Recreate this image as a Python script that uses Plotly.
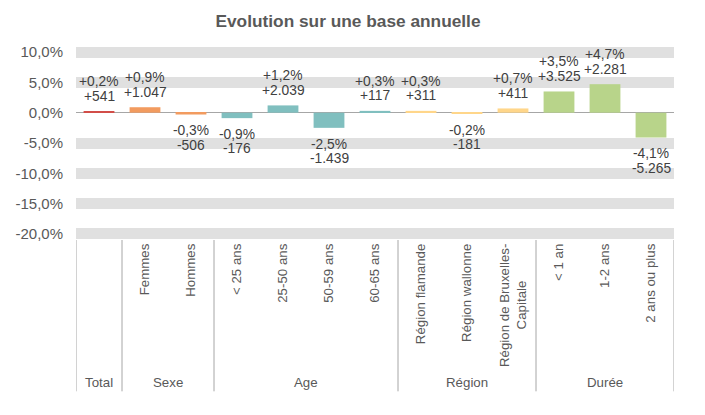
import plotly.graph_objects as go

# ---- data ----
categories = ["Total", "Femmes", "Hommes", "< 25 ans", "25-50 ans", "50-59 ans", "60-65 ans",
              "Région flamande", "Région wallonne", "Région de Bruxelles-Capitale",
              "< 1 an", "1-2 ans", "2 ans ou plus"]
tick_labels = ["", "Femmes", "Hommes", "< 25 ans", "25-50 ans", "50-59 ans", "60-65 ans",
               "Région flamande", "Région wallonne",
               "Région de Bruxelles-<br>Capitale" + "\u00a0" * 10,
               "< 1 an", "1-2 ans", "2 ans ou plus"]
groups = ["Total", "Sexe", "Sexe", "Age", "Age", "Age", "Age",
          "Région", "Région", "Région", "Durée", "Durée", "Durée"]
pct_change = [0.2, 0.9, -0.3, -0.9, 1.2, -2.5, 0.3, 0.3, -0.2, 0.7, 3.5, 4.7, -4.1]
abs_change = [541, 1047, -506, -176, 2039, -1439, 117, 311, -181, 411, 3525, 2281, -5265]
y_tick_vals = [10, 5, 0, -5, -10, -15, -20]
y_tick_text = ["10,0%", "5,0%", "0,0%", "-5,0%", "-10,0%", "-15,0%", "-20,0%"]
group_colors = {"Total": "#D24D48", "Sexe": "#F29B5F", "Age": "#80BFBF",
                "Région": "#FFD68A", "Durée": "#B8D48A"}
title_text = "Evolution sur une base annuelle"

FONT = "Liberation Sans, Arial, sans-serif"
GREY = "#595959"
LABEL = "#404040"

def fmt_pct(v):
    return f"{v:+.1f}".replace(".", ",") + "%"

def fmt_abs(n):
    return f"{n:+,}".replace(",", ".")

fig = go.Figure()
fig.add_trace(go.Bar(
    x=categories, y=pct_change,
    marker=dict(color=[group_colors[g] for g in groups], line=dict(width=0)),
    hoverinfo="skip",
))

annotations = []
for c, v, n in zip(categories, pct_change, abs_change):
    if v >= 0:
        s1, s2 = 29.5, 15
    else:
        s1, s2 = -16.3, -30.8
    annotations.append(dict(x=c, y=v, xref="x", yref="y", text=fmt_pct(v), showarrow=False,
                            yanchor="middle", yshift=s1, font=dict(family=FONT, size=13.8, color=LABEL)))
    annotations.append(dict(x=c, y=v, xref="x", yref="y", text=fmt_abs(n), showarrow=False,
                            yanchor="middle", yshift=s2, font=dict(family=FONT, size=13.8, color=LABEL)))

# group labels and dividers
group_order = []
for g in groups:
    if g not in group_order:
        group_order.append(g)
shapes = []
bounds = [-0.5]
for g in group_order:
    members = [i for i, gg in enumerate(groups) if gg == g]
    center = sum(members) / len(members)
    annotations.append(dict(x=center, y=0, xref="x", yref="paper", text=g, showarrow=False,
                            yanchor="middle", yshift=-142.5,
                            font=dict(family=FONT, size=13.3, color=GREY)))
    bounds.append(members[-1] + 0.5)
for b in bounds:
    shapes.append(dict(type="line", xref="x", yref="paper", x0=b, x1=b, y0=0, y1=-0.78,
                       line=dict(color="#A6A6A6", width=1), layer="below"))

# page body has an 8px default offset; margins compensate for it
fig.update_layout(
    width=705, height=415,
    margin=dict(l=68, r=39, t=38, b=183, autoexpand=False),
    paper_bgcolor="white", plot_bgcolor="white",
    showlegend=False,
    bargap=0.33,
    title=dict(text=f"<b>{title_text}</b>", x=0.4823, xanchor="center", y=0.968, yanchor="middle",
               font=dict(family=FONT, size=17.3, color=GREY)),
    font=dict(family=FONT, color=GREY),
    annotations=annotations,
    shapes=shapes,
    xaxis=dict(
        type="category", range=[-0.5, 12.5], automargin=False,
        tickmode="array", tickvals=categories, ticktext=tick_labels,
        tickangle=-90, tickfont=dict(family=FONT, size=13.3, color=GREY),
        showgrid=False, showline=False, ticks="", zeroline=False,
    ),
    yaxis=dict(
        range=[-21, 11], tickmode="array", tickvals=y_tick_vals, ticktext=y_tick_text,
        automargin=False,
        tickfont=dict(family=FONT, size=15, color=GREY),
        showgrid=True, gridcolor="#E0E0E0", gridwidth=11,
        zeroline=True, zerolinecolor="#A6A6A6", zerolinewidth=1,
        showline=False, ticks="", ticklabelstandoff=12,
    ),
)

fig.write_html("out.html")
